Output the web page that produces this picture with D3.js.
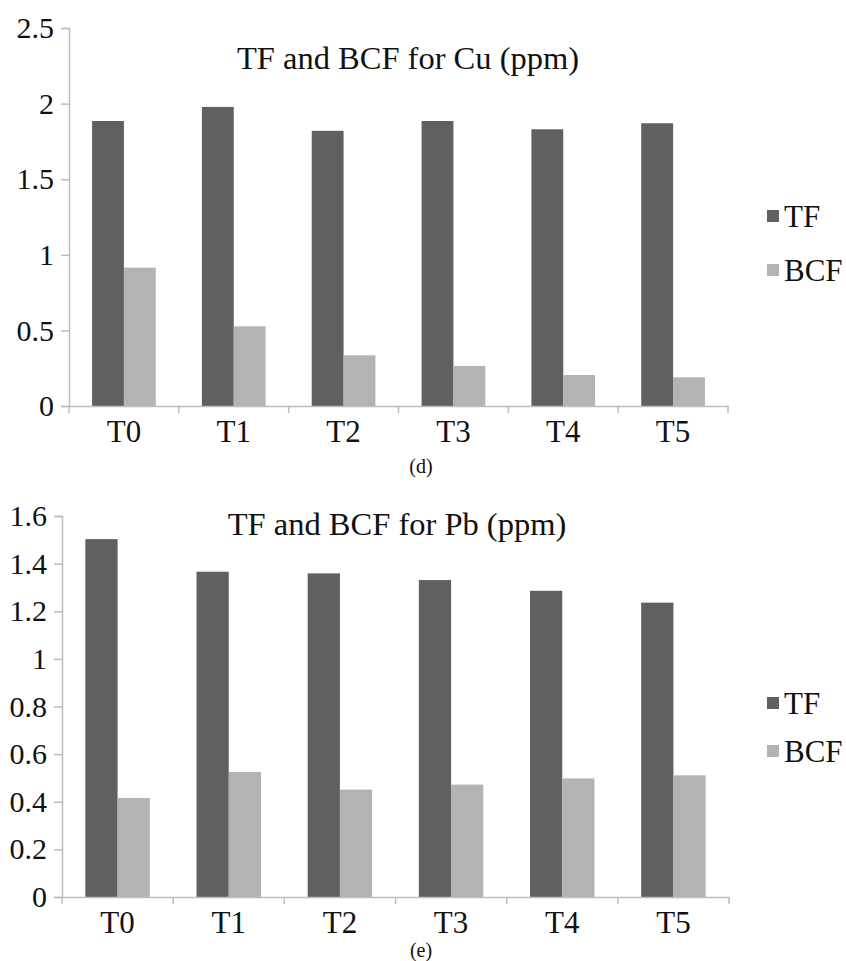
<!DOCTYPE html>
<html>
<head>
<meta charset="utf-8">
<script src="https://cdn.jsdelivr.net/npm/d3@7"></script>
<style>
  html, body { margin: 0; padding: 0; background: #fff; }
  svg { display: block; }
  text { font-family: "Liberation Serif", "Times New Roman", serif; fill: #111; }
</style>
</head>
<body>
<svg id="chart" width="846" height="961"></svg>
<script>
// ---- data ----
const categories = ["T0", "T1", "T2", "T3", "T4", "T5"];
const seriesNames = ["TF", "BCF"];
const cuTF  = [1.885, 1.978, 1.82, 1.885, 1.83, 1.87];
const cuBCF = [0.915, 0.527, 0.335, 0.265, 0.205, 0.19];
const pbTF  = [1.503, 1.366, 1.359, 1.331, 1.286, 1.236];
const pbBCF = [0.416, 0.525, 0.451, 0.472, 0.498, 0.511];
const cuTicks = [0, 0.5, 1, 1.5, 2, 2.5];
const pbTicks = [0, 0.2, 0.4, 0.6, 0.8, 1, 1.2, 1.4, 1.6];
const cuTitle = "TF and BCF for Cu (ppm)";
const pbTitle = "TF and BCF for Pb (ppm)";

const colors = { TF: "#606060", BCF: "#b3b3b3" };
const svg = d3.select("#chart");
const SERIF = "'Liberation Serif', 'Times New Roman', serif";

function drawChart(opt) {
  const g = svg.append("g");
  const x = d3.scaleBand().domain(categories).range([opt.left, opt.right]);
  const bw = x.bandwidth();
  const inner = d3.scaleBand().domain(seriesNames).range([bw * 0.21, bw * 0.79]);
  const y = d3.scaleLinear().domain([0, opt.max]).range([opt.bottom, opt.top]);

  const rows = categories.map((c, i) => ({ cat: c, TF: opt.tf[i], BCF: opt.bcf[i] }));

  // bars
  seriesNames.forEach(s => {
    g.selectAll(null).data(rows).enter().append("rect")
      .attr("x", d => x(d.cat) + inner(s))
      .attr("y", d => y(d[s]))
      .attr("width", inner.bandwidth())
      .attr("height", d => y(0) - y(d[s]))
      .attr("fill", colors[s]);
  });

  // y axis
  const yAxis = g.append("g")
    .attr("transform", `translate(${opt.left},0)`)
    .call(d3.axisLeft(y).tickValues(opt.ticks).tickFormat(d => String(+d.toFixed(1))).tickSize(8).tickPadding(7));
  yAxis.select(".domain").attr("stroke", "#bdbdbd").attr("stroke-width", 1.5);
  yAxis.selectAll(".tick line").attr("stroke", "#bdbdbd").attr("stroke-width", 1.5);
  yAxis.selectAll(".tick text")
    .style("font-family", SERIF)
    .style("font-size", "30px").attr("fill", "#111");

  // x axis
  const xAxis = g.append("g")
    .attr("transform", `translate(0,${opt.bottom})`)
    .call(d3.axisBottom(x).tickSize(0).tickPadding(14));
  xAxis.select(".domain").attr("stroke", "#bdbdbd").attr("stroke-width", 1.5);
  xAxis.selectAll(".tick text")
    .style("font-family", SERIF)
    .style("font-size", "31px").attr("fill", "#111");
  // category separator ticks
  const edges = categories.map(c => x(c)).concat([opt.right]);
  g.selectAll(null).data(edges).enter().append("line")
    .attr("x1", d => d).attr("x2", d => d)
    .attr("y1", opt.bottom).attr("y2", opt.bottom + 7)
    .attr("stroke", "#bdbdbd").attr("stroke-width", 1.5);

  // title
  g.append("text")
    .attr("x", opt.titleX).attr("y", opt.titleY)
    .attr("text-anchor", "middle")
    .style("font-size", "32.5px")
    .text(opt.title);

  // legend
  seriesNames.forEach((s, i) => {
    const ly = opt.legendY[i];
    g.append("rect").attr("x", 767).attr("y", ly - 6).attr("width", 12).attr("height", 12).attr("fill", colors[s]);
    g.append("text").attr("x", 784).attr("y", ly).attr("dy", "0.35em")
      .style("font-size", "31px").text(s);
  });

  // panel label
  g.append("text")
    .attr("x", opt.labelX).attr("y", opt.labelY)
    .attr("text-anchor", "middle")
    .style("font-size", "20px")
    .text(opt.label);
}

drawChart({
  left: 69, right: 728, top: 28, bottom: 406, max: 2.5,
  ticks: cuTicks, tf: cuTF, bcf: cuBCF, title: cuTitle,
  titleX: 408, titleY: 69, legendY: [216, 270], label: "(d)", labelX: 421, labelY: 473
});
drawChart({
  left: 62, right: 729, top: 516, bottom: 897, max: 1.6,
  ticks: pbTicks, tf: pbTF, bcf: pbBCF, title: pbTitle,
  titleX: 397, titleY: 535, legendY: [703, 751], label: "(e)", labelX: 421, labelY: 957
});
</script>
</body>
</html>
